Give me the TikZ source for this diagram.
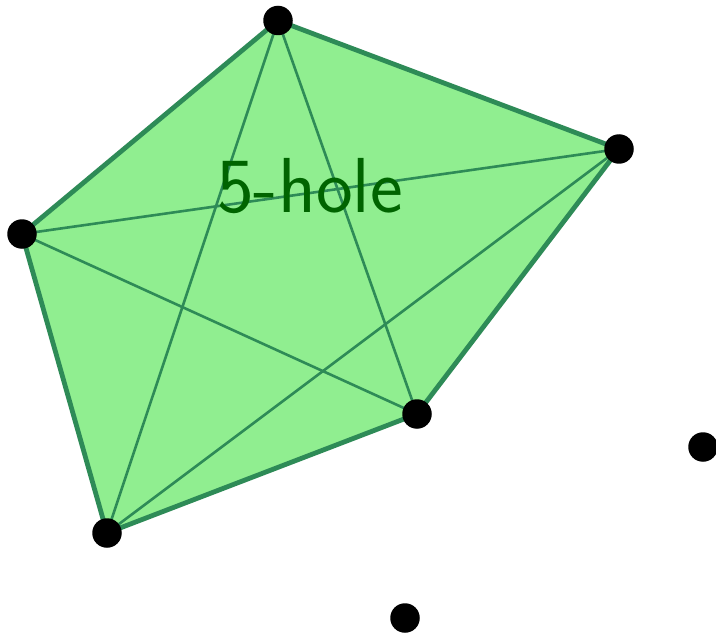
\documentclass[tikz,border=0pt]{standalone}
\begin{document}
\begin{tikzpicture}[x=1pt,y=-1pt,
  dot/.style={circle,fill=black,draw=none,minimum size=29.5pt,inner sep=0pt},
  hull/.style={draw={rgb,255:red,46;green,139;blue,87},line width=4.8pt,fill={rgb,255:red,144;green,238;blue,144},line join=round},
  diag/.style={draw={rgb,255:red,46;green,139;blue,87},line width=2.6pt},
  lbl/.style={text={rgb,255:red,0;green,100;blue,0},font=\fontsize{78}{86}\selectfont\sffamily,anchor=base,inner sep=0pt}]
\useasboundingbox (0,0) rectangle (716,634);
\coordinate (A) at (278,20.5);
\coordinate (B) at (619,149);
\coordinate (C) at (22,234);
\coordinate (D) at (417,414);
\coordinate (E) at (107,533);
\coordinate (F) at (703,447);
\coordinate (G) at (405,618);
\path[hull] (A) -- (B) -- (D) -- (E) -- (C) -- cycle;
\draw[diag] (A) -- (E);
\draw[diag] (A) -- (D);
\draw[diag] (C) -- (B);
\draw[diag] (C) -- (D);
\draw[diag] (E) -- (B);
\node[lbl] (t) at (310,212.7) {5-hole};
\foreach \p in {A,B,C,D,E,F,G} \node[dot] (n\p) at (\p) {};
\end{tikzpicture}
\end{document}
